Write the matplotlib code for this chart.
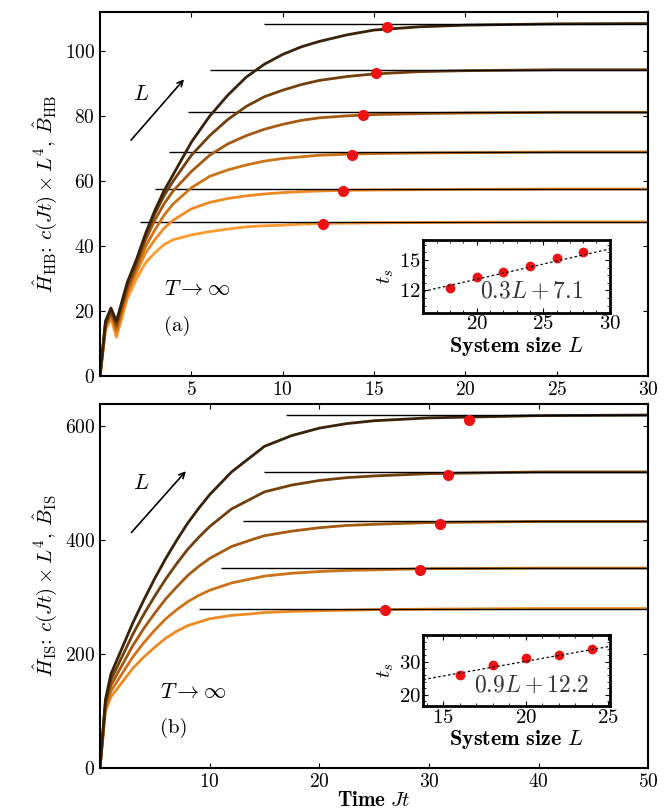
import numpy as np
import matplotlib
matplotlib.use("Agg")
import matplotlib.pyplot as plt

plt.rcParams['mathtext.fontset'] = 'cm'
plt.rcParams['font.family'] = 'serif'
plt.rcParams['font.serif'] = ['cmr10', 'DejaVu Serif']
plt.rcParams['axes.formatter.use_mathtext'] = True

# ---- top panel (HB) ----
t_hb = [0, 0.3, 0.6, 0.9, 1.2, 1.5, 2, 2.5, 3, 3.5, 4, 5, 6, 7, 8, 9, 10, 11, 12, 13.5, 15, 17.5, 20, 25, 30]
c_hb = [
    [0, 14, 18, 12, 18, 24, 30, 35, 38, 40.5, 42, 43.5, 44.5, 45.3, 46, 46.3, 46.5, 46.8, 47, 47.1, 47.2, 47.3, 47.4, 47.5, 47.5],
    [0, 15, 19, 13, 19, 25, 32, 38, 42, 45.5, 48, 51.5, 53.5, 54.7, 55.5, 56.1, 56.5, 56.8, 57, 57.2, 57.3, 57.4, 57.5, 57.6, 57.6],
    [0, 15, 19, 14, 20, 26, 33, 40, 45, 49.5, 53, 58, 61.5, 63.5, 65, 66.2, 67, 67.5, 68, 68.3, 68.5, 68.7, 68.8, 69, 69],
    [0, 16, 20, 15, 21, 27, 34, 42, 48, 53, 57, 63, 68, 71.5, 74, 76, 77.5, 78.7, 79.5, 80.1, 80.5, 80.8, 81, 81.2, 81.2],
    [0, 16, 20, 16, 22, 28, 35, 43, 50, 55.5, 60, 68, 74, 79, 83, 86, 88, 89.7, 91, 92.2, 93, 93.7, 94, 94.3, 94.3],
    [0, 17, 21, 17, 23, 29, 36, 44, 51, 57, 62, 72, 80, 86.5, 92, 96, 99, 101.3, 103, 105, 106.5, 107.5, 108, 108.4, 108.5],
]
sat_hb = [47.5, 57.6, 69, 81.2, 94.3, 108.5]
line_start_hb = [2.2, 3.0, 3.8, 4.8, 6.0, 9.0]
L_hb = [18, 20, 22, 24, 26, 28]
ts_hb = [12.2, 13.3, 13.8, 14.4, 15.1, 15.7]
ts_fit_hb = [12.2, 13.3, 13.8, 14.4, 15.2, 15.8]
dot_y_hb = [47, 57, 68, 80.5, 93.3, 107.5]

# ---- bottom panel (IS) ----
t_is = [0, 0.5, 1, 2, 3, 4, 5, 6, 7, 8, 9, 10, 12, 14, 15, 17.5, 20, 22.5, 25, 30, 40, 50]
c_is = [
    [0, 100, 125, 150, 175, 195, 212, 228, 240, 250, 256, 262, 268, 271, 273, 275, 276, 277, 278, 279, 280, 280],
    [0, 105, 135, 165, 195, 220, 242, 262, 278, 292, 303, 312, 325, 333, 337, 342, 345, 347, 348, 350, 351, 351],
    [0, 110, 145, 180, 215, 245, 272, 297, 318, 338, 354, 368, 389, 402, 408, 416, 422, 426, 428, 431, 433, 433],
    [0, 115, 155, 195, 235, 270, 302, 332, 359, 384, 405, 424, 455, 475, 485, 497, 505, 510, 513, 517, 520, 520],
    [0, 120, 165, 210, 255, 295, 333, 368, 400, 430, 456, 480, 520, 550, 565, 584, 597, 605, 610, 615, 619, 620],
]
sat_is = [280, 351, 433, 520, 620]
line_start_is = [9, 11, 13, 15, 17]
L_is = [16, 18, 20, 22, 24]
ts_is = [25.9, 29.2, 31.2, 32.0, 34.0]
ts_main_is = [26.0, 29.2, 31.0, 31.7, 33.7]
dot_y_is = [278, 348, 428, 515, 612]

colors = ['#ff9a2e', '#ee8a22', '#cc7318', '#a65a10', '#73400c', '#3a2208']

fig, (ax1, ax2) = plt.subplots(2, 1, figsize=(6.71, 8.10), dpi=100)
fig.subplots_adjust(left=0.149, right=0.966, top=0.985, bottom=0.052, hspace=0.075)


def panel(ax, t, curves, sat, starts, ts, doty, cols, xmax, ymax):
    for i, c in enumerate(curves):
        ax.plot(t, c, color=cols[i], lw=2.0)
        ax.hlines(sat[i], starts[i], xmax, color='k', lw=1.0)
        ax.plot(ts[i], doty[i], 'o', color='#ee1111', ms=7, zorder=5)
    ax.set_xlim(0, xmax)
    ax.set_ylim(0, ymax)
    ax.tick_params(direction='in', labelsize=14, top=True, right=True)
    for s in ax.spines.values():
        s.set_linewidth(1.5)


def inset(ax, rect, L, ts, xlim, ylim, xt, yt, fit, txt):
    ia = ax.inset_axes(rect)
    ia.plot(L, ts, 'o', color='#ee1111', ms=6)
    xx = np.array(xlim)
    ia.plot(xx, fit[0] * xx + fit[1], color='k', ls=(0, (2, 2)), lw=0.9)
    ia.set_xlim(*xlim)
    ia.set_ylim(*ylim)
    ia.set_xticks(xt)
    ia.set_yticks(yt)
    ia.minorticks_on()
    ia.tick_params(which='both', direction='in', labelsize=15, top=True, right=True, pad=2)
    ia.set_ylabel(r'$t_s$', fontsize=15, labelpad=2)
    ia.set_xlabel(r'$\mathbf{System\ size}\ L$', fontsize=16, labelpad=1)
    ia.text(0.58, 0.2, txt, transform=ia.transAxes, ha='center', fontsize=17, color='#333333')
    for s in ia.spines.values():
        s.set_linewidth(2)


panel(ax1, t_hb, c_hb, sat_hb, line_start_hb, ts_hb, dot_y_hb, colors, 30, 112)
ax1.set_xticks([5, 10, 15, 20, 25, 30])
ax1.set_yticks([0, 20, 40, 60, 80, 100])
ax1.set_ylabel(r'$\hat{H}_{\rm HB}$: $c(Jt)\times L^4$, $\hat{B}_{\rm HB}$', fontsize=15)
ax1.annotate('', xy=(4.7, 92), xytext=(1.6, 72),
             arrowprops=dict(arrowstyle='->', lw=1.2, color='k'))
ax1.text(1.8, 85, r'$L$', fontsize=16)
ax1.text(3.5, 25, r'$T\rightarrow\infty$', fontsize=16)
ax1.text(3.5, 14, '(a)', fontsize=15)
inset(ax1, [0.59, 0.175, 0.34, 0.2], L_hb, ts_fit_hb, (16, 30), (9.8, 17.0),
      [20, 25, 30], [12, 15], (0.3, 7.1), r'$0.3L+7.1$')

panel(ax2, t_is, c_is, sat_is, line_start_is, ts_main_is, dot_y_is, colors[1:], 50, 640)
ax2.set_xticks([10, 20, 30, 40, 50])
ax2.set_yticks([0, 200, 400, 600])
ax2.set_ylabel(r'$\hat{H}_{\rm IS}$: $c(Jt)\times L^4$, $\hat{B}_{\rm IS}$', fontsize=15)
ax2.set_xlabel(r'$\mathbf{Time}\ Jt$', fontsize=15, labelpad=0)
ax2.annotate('', xy=(8, 525), xytext=(2.7, 410),
             arrowprops=dict(arrowstyle='->', lw=1.2, color='k'))
ax2.text(3.0, 490, r'$L$', fontsize=16)
ax2.text(5.5, 122, r'$T\rightarrow\infty$', fontsize=16)
ax2.text(5.5, 62, '(b)', fontsize=15)
inset(ax2, [0.59, 0.17, 0.34, 0.195], L_is, ts_is, (13.8, 25.1), (16.5, 38.3),
      [15, 20, 25], [20, 30], (0.9, 12.2), r'$0.9L+12.2$')

fig.savefig('out.png', dpi=100)
